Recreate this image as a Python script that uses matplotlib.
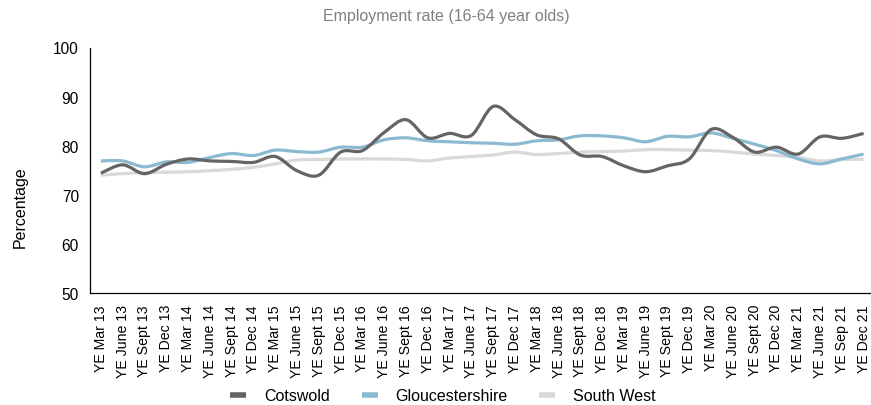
import numpy as np
import matplotlib
matplotlib.use("Agg")
import matplotlib.pyplot as plt
from matplotlib.path import Path
from matplotlib.patches import PathPatch
from matplotlib.lines import Line2D

plt.rcParams['font.family'] = ['Liberation Sans', 'DejaVu Sans']

categories = ["YE Mar 13", "YE June 13", "YE Sept 13", "YE Dec 13",
              "YE Mar 14", "YE June 14", "YE Sept 14", "YE Dec 14",
              "YE Mar 15", "YE June 15", "YE Sept 15", "YE Dec 15",
              "YE Mar 16", "YE June 16", "YE Sept 16", "YE Dec 16",
              "YE Mar 17", "YE June 17", "YE Sept 17", "YE Dec 17",
              "YE Mar 18", "YE June 18", "YE Sept 18", "YE Dec 18",
              "YE Mar 19", "YE June 19", "YE Sept 19", "YE Dec 19",
              "YE Mar 20", "YE June 20", "YE Sept 20", "YE Dec 20",
              "YE Mar 21", "YE June 21", "YE Sep 21", "YE Dec 21"]

cotswold = [74.4, 76.1, 74.3, 76.2, 77.3, 76.9, 76.8, 76.6, 77.8, 74.9, 74.0, 78.7,
            79.0, 82.7, 85.3, 81.6, 82.5, 82.1, 88.0, 85.3, 82.2, 81.4, 78.1, 77.8,
            75.9, 74.7, 75.9, 77.3, 83.3, 81.7, 78.7, 79.7, 78.3, 81.8, 81.5, 82.5]

gloucestershire = [76.9, 76.9, 75.7, 76.7, 76.6, 77.6, 78.4, 78.0, 79.1, 78.8, 78.7, 79.7,
                   79.7, 81.2, 81.6, 81.0, 80.8, 80.6, 80.5, 80.3, 81.0, 81.2, 82.0, 82.0,
                   81.6, 80.8, 81.9, 81.8, 82.6, 81.5, 80.3, 79.0, 77.3, 76.3, 77.3, 78.3]

south_west = [74.0, 74.3, 74.5, 74.6, 74.7, 74.9, 75.2, 75.6, 76.3, 77.1, 77.2, 77.3,
              77.3, 77.3, 77.2, 76.9, 77.5, 77.8, 78.1, 78.7, 78.2, 78.4, 78.7, 78.8,
              78.9, 79.2, 79.2, 79.1, 79.0, 78.7, 78.3, 78.0, 77.6, 76.9, 77.2, 77.2]

series_names = ["Cotswold", "Gloucestershire", "South West"]
colors = ["#646464", "#8bbad0", "#d9d9d9"]


def smooth_path(xs, ys):
    """Catmull-Rom style Bezier curve through the data points (Excel smoothing)."""
    n = len(xs)
    verts = [(xs[0], ys[0])]
    codes = [Path.MOVETO]
    for i in range(n - 1):
        x0, y0 = (xs[i - 1], ys[i - 1]) if i > 0 else (xs[i], ys[i])
        x1, y1 = xs[i], ys[i]
        x2, y2 = xs[i + 1], ys[i + 1]
        x3, y3 = (xs[i + 2], ys[i + 2]) if i + 2 < n else (xs[i + 1], ys[i + 1])
        c1 = (x1 + (x2 - x0) / 6.0, y1 + (y2 - y0) / 6.0)
        c2 = (x2 - (x3 - x1) / 6.0, y2 - (y3 - y1) / 6.0)
        verts += [c1, c2, (x2, y2)]
        codes += [Path.CURVE4, Path.CURVE4, Path.CURVE4]
    return Path(verts, codes)


fig = plt.figure(figsize=(8.71, 4.06), dpi=100)
ax = fig.add_axes([90 / 871, 112 / 406, 784.5 / 871, 245.5 / 406])

x = np.arange(len(categories))
for vals, name, col, z in zip([south_west, gloucestershire, cotswold], series_names[::-1], colors[::-1], [1, 2, 3]):
    p = smooth_path(x, vals)
    ax.add_patch(PathPatch(p, facecolor='none', edgecolor=col, lw=2.3, zorder=z,
                           capstyle='butt', joinstyle='round'))

ax.set_xlim(-0.5, len(categories) - 0.5)
ax.set_ylim(50, 100)
ax.set_yticks([50, 60, 70, 80, 90, 100])
ax.set_xticks(x)
ax.set_xticklabels(categories, rotation=90, fontsize=10.2)
ax.tick_params(axis='x', length=0, pad=8)
ax.tick_params(axis='y', length=0, pad=8, labelsize=11.2)
for s in ['top', 'right']:
    ax.spines[s].set_visible(False)
for s in ['left', 'bottom']:
    ax.spines[s].set_color('black')
    ax.spines[s].set_linewidth(0.9)

fig.text(20 / 871, 1 - 207 / 406, "Percentage", rotation=90, ha='center', va='center', fontsize=11.5)
fig.text(446 / 871, 1 - 16 / 406, "Employment rate (16-64 year olds)", ha='center', va='center',
         fontsize=11.5, color='#808080')

handles = [Line2D([0], [0], color=c, lw=4, solid_capstyle='butt') for c in colors]
fig.legend(handles, series_names, loc='center', bbox_to_anchor=(443 / 871, 1 - 397 / 406), ncol=3,
           frameon=False, fontsize=11.5, handlelength=1.0, handletextpad=1.1, columnspacing=2.0)

fig.savefig("out.png", dpi=100)
